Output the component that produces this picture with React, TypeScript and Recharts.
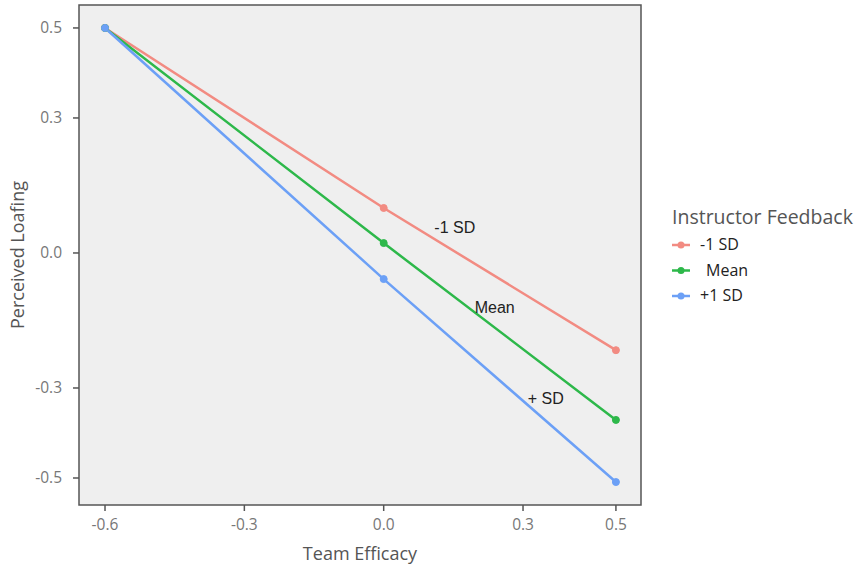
import { CartesianGrid, Label, Line, LineChart, ReferenceArea, ReferenceDot, XAxis, YAxis } from "recharts"

const X_VALUES = [-0.6, 0, 0.5]
const LOW_SD = [0.5, 0.1, -0.216]
const MEAN = [0.5, 0.022, -0.371]
const HIGH_SD = [0.5, -0.058, -0.509]

const X_TICKS = [-0.6, -0.3, 0, 0.3, 0.5]
const Y_TICKS = [0.5, 0.3, 0, -0.3, -0.5]

const SERIES = [
  { key: "low", name: "-1 SD", color: "#F28B82", values: LOW_SD },
  { key: "mean", name: "Mean", color: "#2DB84A", values: MEAN },
  { key: "high", name: "+1 SD", color: "#6CA0F6", values: HIGH_SD },
]

// line-end annotations, in data coordinates
const NOTES = [
  { text: "-1 SD", x: 0.153, y: 0.056 },
  { text: "Mean", x: 0.239, y: -0.12 },
  { text: "+ SD", x: 0.349, y: -0.322 },
]

const X_DOMAIN: [number, number] = [-0.656, 0.554]
const Y_DOMAIN: [number, number] = [-0.56, 0.551]

const rows = X_VALUES.map((x, i) => ({
  x,
  low: LOW_SD[i],
  mean: MEAN[i],
  high: HIGH_SD[i],
}))

const fmt = (v: number) => (v === 0 ? "0.0" : String(v))
const titleFont = "'Open Sans', sans-serif"
const tickStyle = { fill: "#777", fontSize: 15.5, fontFamily: titleFont }

export default function App() {
  return (
    <div style={{ position: "absolute", left: 0, top: 0, width: 858, height: 571, background: "#fff" }}>
      <LineChart width={858} height={571} data={rows} margin={{ top: 5, right: 217, bottom: 36, left: 19 }}>
        <CartesianGrid horizontal={false} vertical={false} fill="#efefef" />
        <XAxis
          dataKey="x"
          type="number"
          domain={X_DOMAIN}
          ticks={X_TICKS}
          tickFormatter={fmt}
          height={30}
          axisLine={false}
          tickLine={{ stroke: "#555", strokeWidth: 1.5 }}
          tickSize={6}
          tick={tickStyle}
          tickMargin={8}
        />
        <YAxis
          type="number"
          domain={Y_DOMAIN}
          ticks={Y_TICKS}
          tickFormatter={fmt}
          width={60}
          axisLine={false}
          tickLine={{ stroke: "#555", strokeWidth: 1.5 }}
          tickSize={6}
          tick={tickStyle}
          tickMargin={11}
        />
        <ReferenceArea
          x1={X_DOMAIN[0]}
          x2={X_DOMAIN[1]}
          y1={Y_DOMAIN[0]}
          y2={Y_DOMAIN[1]}
          fill="none"
          stroke="#555"
          strokeWidth={1.5}
        />
        {SERIES.map((s) => (
          <Line
            key={s.key}
            dataKey={s.key}
            name={s.name}
            stroke={s.color}
            strokeWidth={2.5}
            dot={{ r: 3.5, fill: s.color, stroke: s.color, strokeWidth: 1 }}
            activeDot={false}
            isAnimationActive={false}
          />
        ))}
        {NOTES.map((n) => (
          <ReferenceDot key={n.text} x={n.x} y={n.y} r={0} stroke="none" fill="none">
            <Label
              value={n.text}
              position="center"
              fill="#222"
              fontSize={16}
              fontFamily="'Liberation Sans', Arial, sans-serif"
            />
          </ReferenceDot>
        ))}
      </LineChart>

      <svg width={858} height={571} style={{ position: "absolute", left: 0, top: 0, pointerEvents: "none" }}>
        <text
          x={24}
          y={255}
          transform="rotate(-90 24 255)"
          textAnchor="middle"
          fill="#555"
          fontSize={18}
          fontFamily={titleFont}
        >
          Perceived Loafing
        </text>
        <text x={360} y={560} textAnchor="middle" fill="#555" fontSize={18} fontFamily={titleFont}>
          Team Efficacy
        </text>
        <text x={672} y={224} fill="#555" fontSize={19.5} fontFamily={titleFont}>
          Instructor Feedback
        </text>
        {SERIES.map((s, i) => {
          const cy = 245 + i * 25.5
          return (
            <g key={s.key}>
              <line x1={672} x2={690} y1={cy} y2={cy} stroke={s.color} strokeWidth={2.5} />
              <circle cx={681} cy={cy} r={3.5} fill={s.color} />
              <text
                x={i === 1 ? 706 : 700}
                y={cy + 5}
                fill="#222"
                fontSize={16}
                fontFamily={titleFont}
              >
                {s.name}
              </text>
            </g>
          )
        })}
      </svg>
    </div>
  )
}
